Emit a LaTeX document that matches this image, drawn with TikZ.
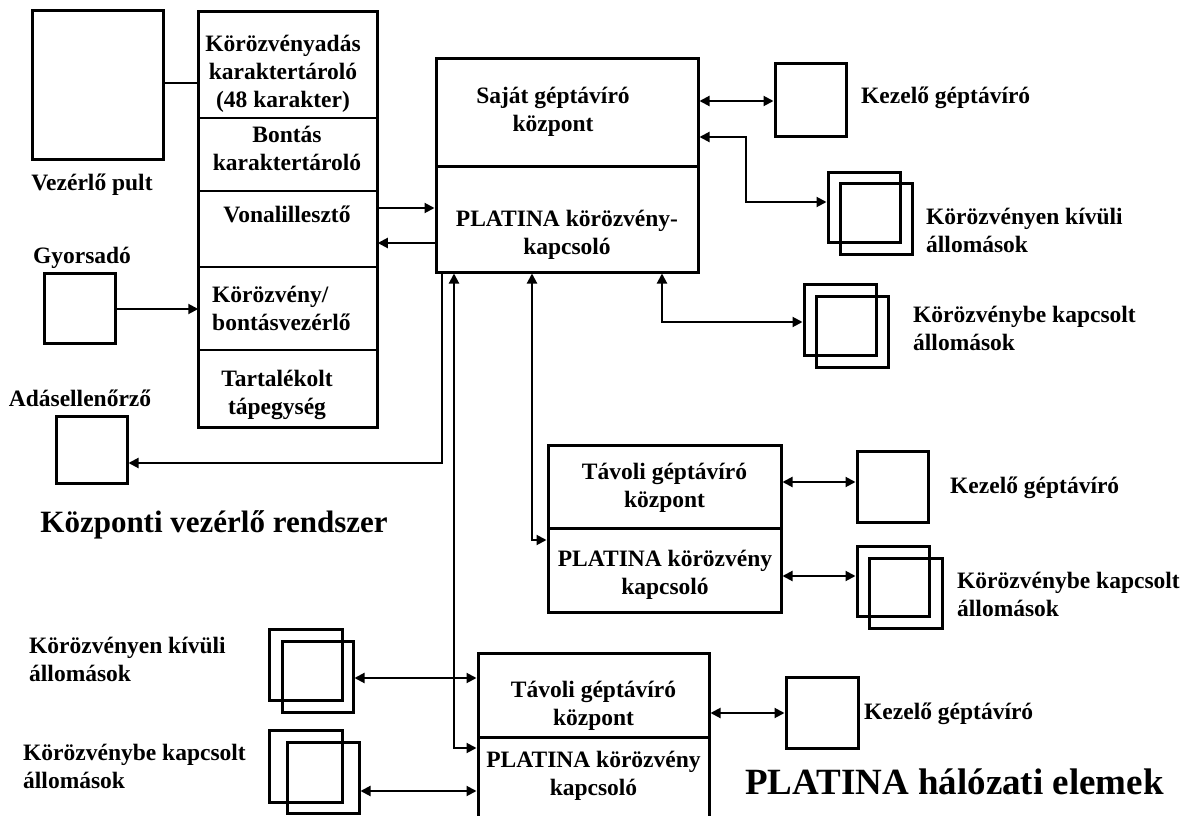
\documentclass[tikz,border=0pt]{standalone}
\usepackage{fontspec}
\setmainfont{Liberation Serif}
\usetikzlibrary{arrows.meta}
\begin{document}
\begin{tikzpicture}[x=1pt,y=-1pt,
  box/.style={draw,line width=3pt,inner sep=0pt,minimum width=#1},
  box/.default=72,
  cell/.style={draw,line width=1.5pt,inner sep=0pt,minimum width=178},
  lbl/.style={font=\fontsize{23.5}{28}\selectfont\bfseries,align=center,inner sep=0pt},
  lbll/.style={lbl,align=left,anchor=west},
  title/.style={font=\fontsize{#1}{#1}\selectfont\bfseries,inner sep=0pt},
  wire/.style={line width=2pt},
  arr/.style={wire,-{Triangle[length=10pt,width=10pt]}},
  biarr/.style={wire,{Triangle[length=10pt,width=10pt]}-{Triangle[length=10pt,width=10pt]}}
]
\useasboundingbox (0,0) rectangle (1187,816);

% ---- central control system ----
\node[box=131,minimum height=148] (vpult) at (97.5,85) {};
\node[lbl] (vpultL) at (92,185) {Vezérlő pult};

\node[cell,minimum height=106] (s1) at (288,65) {};
\node[cell,minimum height=73] (s2) at (288,154.5) {};
\node[cell,minimum height=76] (s3) at (288,229) {};
\node[cell,minimum height=83] (s4) at (288,308.5) {};
\node[cell,minimum height=77] (s5) at (288,388.5) {};
\draw[line width=3pt] (s1.north west) rectangle (s5.south east);
\node[lbl] (s1L) at (283,74) {Körözvényadás\\karaktertároló\\(48 karakter)};
\node[lbl] (s2L) at (287,148.5) {Bontás\\karaktertároló};
\node[lbl] (s3L) at (287,214) {Vonalillesztő};
\node[lbll] (s4L) at (212,308) {Körözvény/\\bontásvezérlő};
\node[lbl] (s5L) at (277,395) {Tartalékolt\\tápegység};

\node[box=71,minimum height=70] (gyors) at (79.5,308) {};
\node[lbl] (gyorsL) at (82,258) {Gyorsadó};
\node[box=71,minimum height=67] (adas) at (91.5,449.5) {};
\node[lbl] (adasL) at (80,398) {Adásellenőrző};

\node[title=31] (kvr) at (214,525) {Központi vezérlő rendszer};

% ---- own exchange and PLATINA switch ----
\node[box=262,minimum height=107] (sajat) at (567,112.5) {};
\node[box=262,minimum height=106] (platm) at (567,219) {};
\node[lbl] (sajatL) at (553,112) {Saját géptávíró\\központ};
\node[lbl] (platmL) at (567,235) {PLATINA körözvény-\\kapcsoló};

\node[box=71,minimum height=72] (kez1) at (810.5,100) {};
\node[lbll] (kez1L) at (861,98) {Kezelő géptávíró};
\node[box,minimum height=70] (kk1b) at (864,207) {};
\node[box,minimum height=71] (kk1f) at (876,218.5) {};
\node[lbll] (kk1L) at (926,230) {Körözvényen kívüli\\állomások};
\node[box,minimum height=71] (kb1b) at (840,319.5) {};
\node[box,minimum height=71] (kb1f) at (852,331.5) {};
\node[lbll] (kb1L) at (913,328.5) {Körözvénybe kapcsolt\\állomások};

% ---- first remote exchange ----
\node[box=233,minimum height=83] (tav2) at (664.5,486.5) {};
\node[box=233,minimum height=84] (plat2) at (664.5,570) {};
\node[lbl] (tav2L) at (664.5,487.5) {Távoli géptávíró\\központ};
\node[lbl] (plat2L) at (665,575) {PLATINA körözvény\\kapcsoló};
\node[box=71,minimum height=71] (kez2) at (892.5,486.5) {};
\node[lbll] (kez2L) at (950,488) {Kezelő géptávíró};
\node[box,minimum height=70] (kb2b) at (893,581) {};
\node[box=73,minimum height=70] (kb2f) at (905.5,593) {};
\node[lbll] (kb2L) at (957,594) {Körözvénybe kapcsolt\\állomások};

% ---- second remote exchange ----
\node[box=231,minimum height=84] (tav3) at (593.5,695) {};
\node[box=231,minimum height=84] (plat3) at (593.5,779) {};
\node[lbl] (tav3L) at (593.5,706) {Távoli géptávíró\\központ};
\node[lbl] (plat3L) at (593.5,776) {PLATINA körözvény\\kapcsoló};
\node[box,minimum height=71] (kez3) at (822,712.5) {};
\node[lbll] (kez3L) at (864,714) {Kezelő géptávíró};
\node[box=73,minimum height=71] (kk3b) at (305.5,664.5) {};
\node[box=71,minimum height=71] (kk3f) at (317.5,676.5) {};
\node[lbll] (kk3L) at (29,659.5) {Körözvényen kívüli\\állomások};
\node[box=73,minimum height=72] (kb3b) at (305.5,766) {};
\node[box,minimum height=71] (kb3f) at (323,777.5) {};
\node[lbll] (kb3L) at (23,766) {Körözvénybe kapcsolt\\állomások};

\node[title=37,anchor=west] (phe) at (745,782) {PLATINA hálózati elemek};

% ---- connectors ----
\draw[wire] (vpult.east |- 0,83) -- (s1.west |- 0,83);
\draw[arr] (gyors.east |- 0,309) -- (s4.west |- 0,309);
\draw[arr] (s3.east |- 0,208) -- (platm.west |- 0,208);
\draw[arr] (platm.west |- 0,243) -- (s3.east |- 0,243);

\draw[biarr] (sajat.east |- 0,101) -- (kez1.west |- 0,101);
\draw[biarr] (sajat.east |- 0,137) -- (746,137) |- (kk1b.west |- 0,202);
\draw[biarr] (platm.south -| 662,0) |- (kb1b.west |- 0,322);

\draw[arr] (platm.south -| 442,0) |- (adas.east |- 0,463);
\draw[biarr] (platm.south -| 454,0) |- (plat3.west |- 0,748);
\draw[biarr] (platm.south -| 532,0) |- (plat2.west |- 0,540);

\draw[biarr] (tav2.east |- 0,482) -- (kez2.west |- 0,482);
\draw[biarr] (plat2.east |- 0,576) -- (kb2b.west |- 0,576);

\draw[biarr] (tav3.east |- 0,713) -- (kez3.west |- 0,713);
\draw[biarr] (kk3f.east |- 0,678) -- (tav3.west |- 0,678);
\draw[biarr] (kb3f.east |- 0,791) -- (plat3.west |- 0,791);
\end{tikzpicture}
\end{document}
